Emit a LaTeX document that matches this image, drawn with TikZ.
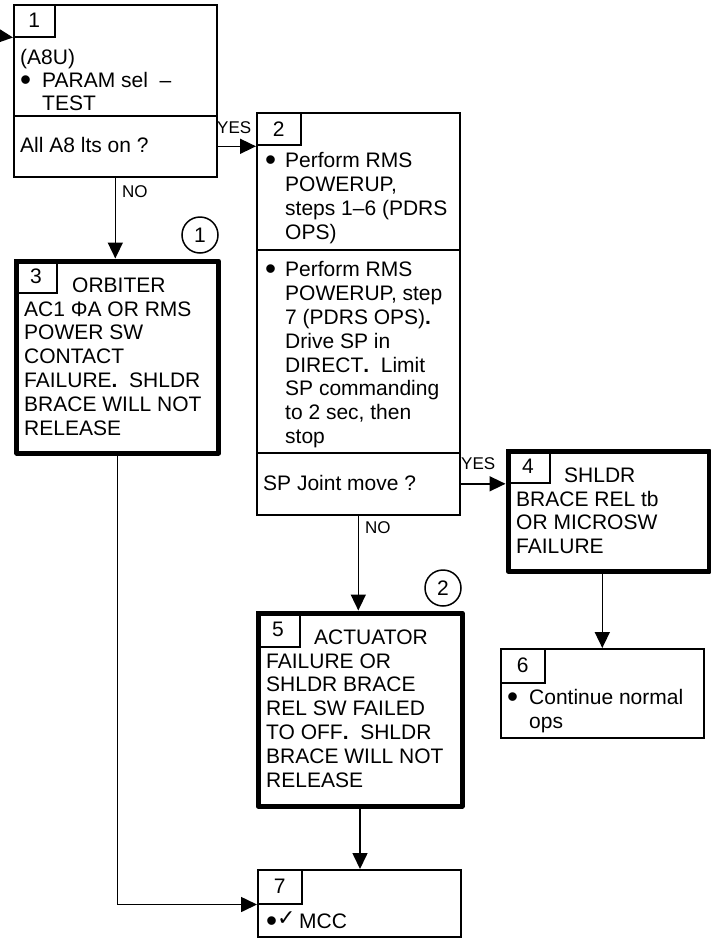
\documentclass[tikz,border=0pt]{standalone}
\usepackage{fontspec}
\setmainfont{Liberation Sans}
\newfontfamily\symfont{DejaVu Sans}
\usetikzlibrary{arrows.meta, positioning, calc}
\newcommand{\mainfs}{\fontsize{21}{23.8}\selectfont}
\newcommand{\lblfs}{\fontsize{17}{20}\selectfont}
\newcommand{\bigdot}{\raisebox{-2.6pt}[0pt][0pt]{\scalebox{1.5}{\textbullet}}}
\newcommand{\bitem}[1][20pt]{\makebox[#1][l]{\bigdot}}
\newcommand{\bcont}[1][20pt]{\hspace*{#1}}
\tikzset{
  block/.style={rectangle, draw, line width=1.6pt, anchor=north west, inner sep=0pt},
  failblock/.style={rectangle, draw, line width=5pt, line join=round,
    anchor=north west, inner sep=0pt},
  tab/.style={rectangle, draw, line width=1.5pt, anchor=north west,
    inner sep=0pt, font=\mainfs},
  txt/.style={anchor=north west, inner sep=0pt, align=left, font=\mainfs},
  lbl/.style={anchor=base west, inner sep=0pt, font=\lblfs},
  note/.style={circle, draw, line width=1.5pt, minimum size=36pt,
    inner sep=0pt, font=\mainfs},
  arrow/.style={-{Triangle[length=16pt,width=15pt]}, line width=1.6pt}
}
\begin{document}
\begin{tikzpicture}[x=1pt, y=-1pt]
  \useasboundingbox (0,0) rectangle (711,940);

  % Box 1
  \node[block, minimum width=203pt, minimum height=111pt] (b1top) at (13,4) {};
  \node[block, minimum width=203pt, minimum height=61pt] (b1q) at (13,115) {};
  \node[tab, minimum width=41pt, minimum height=32pt] (tab1) at (13,4) {1};
  \node[txt, font=\fontsize{21}{23}\selectfont] (t1) at (20,49.5) {(A8U)\\\bitem[22pt]PARAM sel~~–\\\bcont[22pt]TEST};
  \node[txt] (t1q) at (20,137.5) {All A8 lts on ?};

  % Box 2
  \node[block, minimum width=203pt, minimum height=137pt] (b2a) at (256,112) {};
  \node[block, minimum width=203pt, minimum height=203pt] (b2b) at (256,249) {};
  \node[block, minimum width=203pt, minimum height=62pt] (b2q) at (256,452) {};
  \node[tab, minimum width=44pt, minimum height=32pt] (tab2) at (256,112) {2};
  \node[txt] (t2a) at (265,152.5) {\bitem Perform RMS\\\bcont POWERUP,\\\bcont steps 1–6 (PDRS\\\bcont OPS)};
  \node[txt] (t2b) at (265,261.5) {\bitem Perform RMS\\\bcont POWERUP, step\\\bcont 7 (PDRS OPS)\textbf{.}\\\bcont Drive SP in\\\bcont DIRECT\textbf{.}~~Limit\\\bcont SP commanding\\\bcont to 2 sec, then\\\bcont stop};
  \node[txt] (t2q) at (263,475.5) {SP Joint move ?};

  % Box 3
  \node[failblock, minimum width=201.8pt, minimum height=192pt] (b3) at (14.2,258.5) {};
  \node[tab, minimum width=41.8pt, minimum height=33.5pt] (tab3) at (14.2,258.5) {3};
  \node[txt] (t3) at (24,277.5) {\hspace*{48pt}ORBITER\\AC1 ΦA OR RMS\\POWER SW\\CONTACT\\FAILURE\textbf{.}~~SHLDR\\BRACE WILL NOT\\RELEASE};
  \node[note] (c1) at (200,235) {1};

  % Box 4
  \node[failblock, minimum width=201pt, minimum height=120pt] (b4) at (505.5,448.5) {};
  \node[tab, minimum width=43.5pt, minimum height=33.5pt] (tab4) at (505.5,448.5) {4};
  \node[txt] (t4) at (516,467.5) {\hspace*{48pt}SHLDR\\BRACE REL tb\\OR MICROSW\\FAILURE};

  % Box 5
  \node[failblock, minimum width=204pt, minimum height=193pt] (b5) at (255.5,610.5) {};
  \node[tab, minimum width=43.5pt, minimum height=35.5pt] (tab5) at (255.5,610.5) {5};
  \node[txt] (t5) at (266,629.5) {\hspace*{48pt}ACTUATOR\\FAILURE OR\\SHLDR BRACE\\REL SW FAILED\\TO OFF\textbf{.}~~SHLDR\\BRACE WILL NOT\\RELEASE};
  \node[note] (c2) at (443,588) {2};

  % Box 6
  \node[block, minimum width=203pt, minimum height=89pt] (b6) at (500,648) {};
  \node[tab, minimum width=44pt, minimum height=34pt] (tab6) at (500,648) {6};
  \node[txt] (t6) at (507,689.5) {\bitem[22pt]Continue normal\\\bcont[22pt]ops};

  % Box 7
  \node[block, minimum width=203pt, minimum height=67pt] (b7) at (257,869) {};
  \node[tab, minimum width=44pt, minimum height=34pt] (tab7) at (257,869) {7};
  \node[txt] (t7) at (266,911.5) {\bigdot{\symfont\fontsize{22}{22}\selectfont\raisebox{3pt}{✓}}\,MCC};

  % Connectors
  \coordinate (entry) at (0,36);
  \draw[arrow] (entry) -- (tab1.south west);
  \draw[arrow] (b1q.east) -- (b1q.east -| b2a.west);
  \draw[arrow] (b1q.south) -- (b1q.south |- b3.north);
  \draw[arrow] (b2q.east) -- (b2q.east -| b4.west);
  \draw[arrow] (b2q.south) -- (b2q.south |- b5.north);
  \draw[arrow] (b4.south -| b6.north) -- (b6.north);
  \draw[arrow] (b5.south) -- (b5.south |- b7.north);
  \draw[arrow] (b3.south) |- (tab7.south west);

  % Labels
  \node[lbl] (yes1) at (217,133) {YES};
  \node[lbl] (no1) at (122,197) {NO};
  \node[lbl] (yes2) at (461,469) {YES};
  \node[lbl] (no2) at (365,533) {NO};
\end{tikzpicture}
\end{document}
